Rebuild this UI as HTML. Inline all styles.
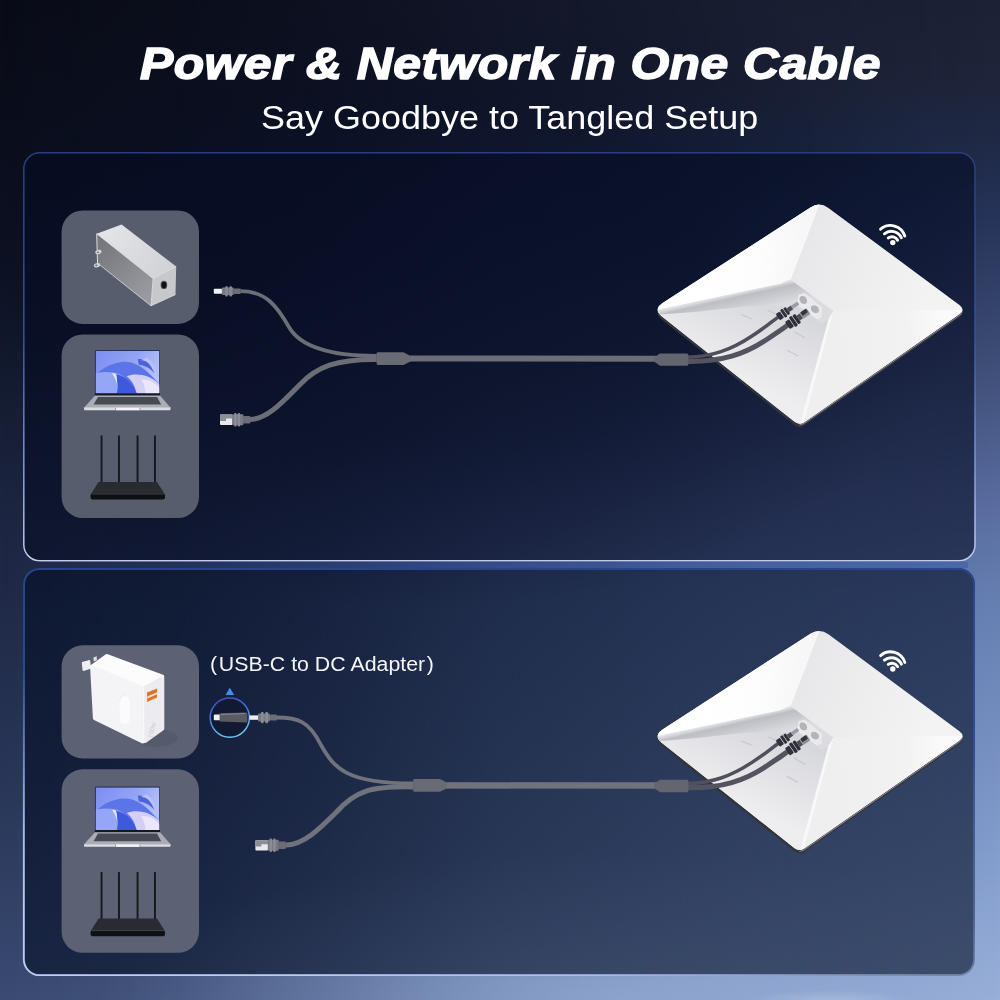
<!DOCTYPE html>
<html lang="en">
<head>
<meta charset="utf-8">
<title>Power &amp; Network in One Cable</title>
<style>
html,body{margin:0;padding:0;}
body{width:1000px;height:1000px;overflow:hidden;position:relative;background:#0b0f1c;font-family:"Liberation Sans",sans-serif;}
#bg{position:absolute;left:0;top:0;width:1000px;height:1000px;
 background:linear-gradient(180deg,#090c17 0%,#0b0f1c 15%,#0f1424 27%,#182036 40%,#1e2744 56%,#2a3758 80%,#3a4a72 100%);}
#bg2{position:absolute;left:0;top:0;width:1000px;height:1000px;
 background:linear-gradient(180deg,#1c2136 0%,#1e2439 8%,#1f2a47 15%,#26345a 22%,#3c4b73 35%,#586b9f 50%,#667fb2 60%,#829ccc 85%,#9ab0d8 100%);
 -webkit-mask-image:linear-gradient(90deg,rgba(0,0,0,0) 0%,rgba(0,0,0,0.1) 18%,rgba(0,0,0,0.3) 33%,rgba(0,0,0,0.6) 50%,rgba(0,0,0,0.85) 75%,rgba(0,0,0,1) 100%);
 mask-image:linear-gradient(90deg,rgba(0,0,0,0) 0%,rgba(0,0,0,0.1) 18%,rgba(0,0,0,0.3) 33%,rgba(0,0,0,0.6) 50%,rgba(0,0,0,0.85) 75%,rgba(0,0,0,1) 100%);}
#bg3{position:absolute;left:0;top:0;width:1000px;height:1000px;
 background:radial-gradient(ellipse 80px 10px at 830px 1000px, rgba(200,210,228,0.4) 0%, rgba(214,221,234,0) 100%),radial-gradient(ellipse 560px 340px at 42% 27%, rgba(5,10,32,0.5) 0%, rgba(5,10,32,0.42) 50%, rgba(5,10,32,0) 100%),
  radial-gradient(ellipse 520px 150px at 62% 100%, rgba(150,176,220,0.55) 0%, rgba(140,168,216,0.25) 55%, rgba(140,168,216,0) 100%);}
.panel{position:absolute;left:23px;width:952px;border-radius:16.5px;box-sizing:border-box;}
#gap{position:absolute;left:30px;top:561.6px;width:938px;height:6.6px;background:linear-gradient(90deg,rgba(30,70,170,0) 0%,rgba(30,70,170,0.3) 40%,rgba(30,70,170,0.3) 100%);}
#p1{top:152px;height:409.6px;background:rgba(5,12,35,0.6);}
#p2{top:568px;height:407.6px;background:rgba(4,13,37,0.6);}
svg{position:absolute;left:0;top:0;}
.t{position:absolute;white-space:nowrap;color:#fff;transform-origin:0 0;line-height:1;}
#title{left:139.5px;top:42.4px;font-size:44.5px;font-weight:bold;font-style:italic;transform:scaleX(1.12);-webkit-text-stroke:1.5px #fff;letter-spacing:0.4px;}
#sub{left:261px;top:100.5px;font-size:33.5px;transform:scaleX(1.0736);}
#usb{left:210.4px;top:655px;font-size:19.4px;transform:scaleX(1.1);color:#f4f5f8;}
</style>
</head>
<body>
<div id="bg"></div><div id="bg2"></div><div id="bg3"></div>
<div id="gap"></div>
<div class="panel" id="p1"></div>
<div class="panel" id="p2"></div>

<svg width="1000" height="1000" viewBox="0 0 1000 1000">
<defs>
 <linearGradient id="b1" x1="0" y1="0" x2="0" y2="1">
  <stop offset="0" stop-color="#2c3c82"/><stop offset="0.45" stop-color="#3350a6"/><stop offset="0.8" stop-color="#8a9edc"/><stop offset="0.95" stop-color="#b4c2ee"/><stop offset="1" stop-color="#c0ccf2"/>
 </linearGradient>
 <linearGradient id="b2" x1="0" y1="0" x2="0" y2="1">
  <stop offset="0" stop-color="#2a4488"/><stop offset="0.45" stop-color="#34509a" stop-opacity="0.85"/><stop offset="1" stop-color="#7f98cc" stop-opacity="0.25"/>
 </linearGradient>
 <linearGradient id="b3" x1="0.85" y1="0" x2="0.25" y2="1">
  <stop offset="0" stop-color="#b4c6f2" stop-opacity="0"/><stop offset="0.55" stop-color="#b4c6f2" stop-opacity="0"/><stop offset="0.85" stop-color="#b4c6f2" stop-opacity="0.9"/><stop offset="1" stop-color="#bccdf5" stop-opacity="1"/>
 </linearGradient>
 <linearGradient id="gF1" gradientUnits="userSpaceOnUse" x1="700" y1="270" x2="795" y2="282">
  <stop offset="0" stop-color="#ffffff"/><stop offset="0.6" stop-color="#fdfdfe"/><stop offset="1" stop-color="#f7f7f8"/>
 </linearGradient>
 <linearGradient id="gF2" gradientUnits="userSpaceOnUse" x1="805" y1="250" x2="930" y2="300">
  <stop offset="0" stop-color="#e8e8ea"/><stop offset="0.5" stop-color="#eeeeef"/><stop offset="1" stop-color="#f3f3f4"/>
 </linearGradient>
 <linearGradient id="gW1" gradientUnits="userSpaceOnUse" x1="740" y1="291" x2="745" y2="313">
  <stop offset="0" stop-color="#e6e6e9"/><stop offset="0.1" stop-color="#d8d9dd"/><stop offset="0.24" stop-color="#bdbec4"/><stop offset="0.6" stop-color="#cbccd1"/><stop offset="1" stop-color="#dcdce0"/>
 </linearGradient>
 <linearGradient id="gBase" gradientUnits="userSpaceOnUse" x1="790" y1="305" x2="752" y2="385">
  <stop offset="0" stop-color="#d5d6db"/><stop offset="0.5" stop-color="#e2e2e6"/><stop offset="1" stop-color="#eeeef0"/>
 </linearGradient>
 <linearGradient id="gF3" gradientUnits="userSpaceOnUse" x1="830" y1="330" x2="940" y2="320">
  <stop offset="0" stop-color="#efeff0"/><stop offset="0.7" stop-color="#f2f2f3"/><stop offset="1" stop-color="#fafafa"/>
 </linearGradient>
 <linearGradient id="gSide" gradientUnits="userSpaceOnUse" x1="100" y1="245" x2="150" y2="295">
  <stop offset="0" stop-color="#77787d"/><stop offset="1" stop-color="#9a9ba0"/>
 </linearGradient>
 <linearGradient id="gTop" gradientUnits="userSpaceOnUse" x1="105" y1="232" x2="165" y2="272">
  <stop offset="0" stop-color="#e3e4e7"/><stop offset="1" stop-color="#d2d3d7"/>
 </linearGradient>
 <linearGradient id="gCirc" x1="0" y1="0" x2="0.3" y2="1">
  <stop offset="0" stop-color="#4544b8"/><stop offset="0.5" stop-color="#3f7fe0"/><stop offset="1" stop-color="#72c4f2"/>
 </linearGradient>
 <linearGradient id="gScr" x1="0" y1="0" x2="1" y2="0.4">
  <stop offset="0" stop-color="#7d8df1"/><stop offset="0.6" stop-color="#93a4f5"/><stop offset="1" stop-color="#b4c0fa"/>
 </linearGradient>

 <clipPath id="devClip"><path d="M810.4 207.4 Q819.6 201.4 828.4 207.9 L959.4 304.9 Q965.8 309.7 959.2 314.3 L804.7 421.9 Q799.4 425.6 794.3 421.6 L662 316.5 Q653 309.3 662.6 303 Z"/></clipPath>
 <!-- the white panel antenna (panel-1 coordinates) -->
 <g id="dev">
  <!-- side thickness -->
  <path d="M810.4 207.4 Q819.6 201.4 828.4 207.9 L959.4 304.9 Q965.8 309.7 959.2 314.3 L804.7 421.9 Q799.4 425.6 794.3 421.6 L662 316.5 Q653 309.3 662.6 303 Z" transform="translate(0 3.3)" fill="#33353e"/>
  <path d="M799.4 424.4 Q802 424.6 804.7 422.6 L959.2 315 Q962.6 312.6 963 310 L963 311 Q962.6 313.6 959.2 316 L804.7 423.6 Q802 425.6 799.4 425.4 Z" fill="#8d8f98"/>
  <g clip-path="url(#devClip)">
  <!-- top surface -->
  <rect x="645" y="198" width="330" height="235" fill="url(#gF2)"/>
  <!-- facets -->
  <path d="M821 198 L790.2 279.5 L780 284 L645 312.4 L645 198 Z" fill="url(#gF1)"/>
  <path d="M833.4 311 L975 309.6 L799.4 432 Z" fill="url(#gF3)"/>
  <!-- recess -->
  <path d="M645 312.4 L796 294 L829 319 L801.4 421.4 L799 432 Z" fill="url(#gBase)"/>
  <path d="M645 312.4 L780 284 L790.2 279.5 L833.4 311 L828.6 319.4 L822 324 L800 308 L782 306 L744 306.4 L700 311.4 L668 314 L645 315 Z" fill="url(#gW1)"/>
  <path d="M833.4 311 L828.4 319.4 L798.4 430 L803.4 424 Z" fill="#f8f8f9"/>
  <path d="M799.4 294.6 L804.8 293 L822.2 307.6 L821.4 317.6 L817.8 318.8 L797.8 304 Z" fill="#e9e9ec"/>
  <path d="M799.4 294.6 L797.8 304 L817.8 318.8" stroke="#f6f6f7" stroke-width="0.8" fill="none"/>
  <ellipse cx="803.3" cy="300" rx="3.9" ry="4.9" transform="rotate(-38 803.3 300)" fill="#b3b4b9" stroke="#f5f5f6" stroke-width="0.7"/>
  <ellipse cx="814.9" cy="309.2" rx="3.9" ry="4.9" transform="rotate(-52 814.9 309.2)" fill="#b3b4b9" stroke="#f5f5f6" stroke-width="0.7"/>
  <path d="M820.6 200 L790.2 279.5" stroke="#fefefe" stroke-width="0.8" fill="none"/>
  </g>
  <!-- dashes -->
  <g stroke="#c9cacf" stroke-width="1.3" fill="none">
   <path d="M741 314.4 L752 319"/><path d="M768 310.4 L778 315"/><path d="M794 331.6 L805 338"/><path d="M787 350 L798 356"/>
  </g>
  <!-- cables on device -->
  <path d="M687 357.2 C712 356.6 731 350 752 336 S770 322.6 779 316.6" stroke="#4f505b" stroke-width="3.5" fill="none"/>
  <path d="M687 361.4 C722 362 745 354 766 340 S782 329 789.6 323.8" stroke="#53545f" stroke-width="5" fill="none"/>
  <!-- dc plug on device -->
  <g transform="translate(784 313) rotate(-35)">
   <rect x="-7.5" y="-3.8" width="5" height="7.6" rx="1" fill="#30313a"/>
   <rect x="-1.8" y="-4.6" width="3" height="9.2" rx="1" fill="#30313a"/>
   <rect x="1.8" y="-4.2" width="3" height="8.4" rx="1" fill="#30313a"/>
   <rect x="4.8" y="-2.2" width="5" height="4.4" fill="#4b4c55"/>
   <rect x="9.5" y="-1.8" width="8" height="3.6" rx="0.8" fill="#9c9da5"/>
  </g>
  <!-- rj45 plug on device -->
  <g transform="translate(794 321) rotate(-35)">
   <rect x="-8" y="-4.4" width="5" height="8.8" rx="1" fill="#30313a"/>
   <rect x="-2.4" y="-5.8" width="3.4" height="11.6" rx="1.2" fill="#2e2f38"/>
   <rect x="1.6" y="-5.4" width="3.4" height="10.8" rx="1.2" fill="#2e2f38"/>
   <rect x="5" y="-3" width="4" height="6" fill="#4b4c55"/>
   <rect x="9" y="-3.4" width="8.6" height="7" rx="1" fill="#8e9097"/><rect x="10" y="-3.4" width="6.6" height="4.2" rx="0.8" fill="#33343c"/>
  </g>
  <!-- junction near device -->
  <path d="M654 357.2 L660 353.4 L687 353.4 Q688.4 353.4 688.4 355 L688.4 364 Q688.4 365.8 687 365.8 L660 365.8 L654 361.6 Z" fill="#63656f"/>
 </g>

 <!-- laptop + router box (panel-1 coordinates) -->
 <g id="lr">
  <!-- laptop -->
  <rect x="94.9" y="350" width="65.1" height="45.7" rx="1.2" fill="#26315c"/>
  <g transform="translate(75 340) scale(0.11)">
   <rect x="190" y="100" width="575" height="385" fill="url(#gScr)"/>
   <path d="M190 300 C250 280 330 290 370 330 C392 380 388 440 380 485 L190 485 Z" fill="#95a6f6"/>
   <path d="M205 300 C260 250 330 215 420 200 C520 190 600 230 700 330 L765 400 L765 485 L560 485 C520 400 460 330 380 300 C320 285 250 290 205 300 Z" fill="#5b75e8"/>
   <path d="M470 330 C560 296 680 318 765 400 L765 485 L560 485 C545 420 520 370 470 330 Z" fill="#d3cff6"/>
   <path d="M600 360 C660 350 720 380 765 430 L765 485 L640 485 C640 440 625 395 600 360 Z" fill="#ece6fa"/>
   <path d="M330 300 C385 330 402 400 380 485 L560 485 C540 420 480 340 400 318 Z" fill="#3f59de"/>
   <path d="M570 175 C625 160 685 205 722 305 C690 262 640 232 580 226 Z" fill="#4b63dd"/>
   <path d="M600 185 C650 180 700 230 730 300 C735 250 700 190 650 160 Z" fill="#b9c3fa"/>
   <path d="M330 300 C352 325 368 350 380 400 C386 350 380 320 370 305 Z" fill="#dfe4fd"/>
  </g>
  <rect x="94.9" y="393.4" width="65.1" height="2.3" fill="#17181f"/>
  <path d="M95 395.6 L160 395.6 L170.8 408 L83.8 408 Z" fill="#aaacb6"/>
  <path d="M98 397 L157 397 L161.2 404.6 L93.6 404.6 Z" fill="#474953"/>
  <path d="M83.8 407.6 L170.8 407.6 L170.2 410.2 L84.4 410.2 Z" fill="#dcdde4"/>
  <rect x="116" y="407.8" width="23.6" height="2.4" fill="#f4f4f8"/>
  <rect x="115.2" y="407.8" width="0.8" height="2.4" fill="#8c8e98"/><rect x="139.6" y="407.8" width="0.8" height="2.4" fill="#8c8e98"/>
  <!-- router -->
  <g fill="#17181d">
   <rect x="100.6" y="435.5" width="1.9" height="50"/>
   <rect x="118" y="435.5" width="1.9" height="48"/>
   <rect x="136.6" y="435.5" width="1.9" height="48"/>
   <rect x="154" y="435.5" width="1.9" height="50"/>
   <path d="M98.5 482 L157 482 L164.6 494 L91 494 Z" fill="#2a2b32"/>
   <rect x="90.6" y="493.6" width="74.4" height="6" rx="2" fill="#0f1014"/>
  </g>
  <path d="M92 494 L164 494" stroke="#4a4b53" stroke-width="0.8"/>
 </g>

 <!-- splitter cable, panel-1 coordinates -->
 <g id="ycab">
  <path d="M410 358.5 L656 358.8" stroke="#6b6d77" stroke-width="6" fill="none"/>
  <path d="M376.6 353.6 Q376.6 352.2 378 352.2 L403.4 352.2 L410.6 356 L410.6 361.4 L403.4 365 L378 365 Q376.6 365 376.6 363.6 Z" fill="#686a74"/>
 </g>
</defs>

<!-- panel borders -->
<rect x="23.8" y="152.8" width="951.2" height="408" rx="16" fill="none" stroke="url(#b1)" stroke-width="1.5"/>
<rect x="24" y="569" width="950" height="406" rx="15.5" fill="none" stroke="url(#b2)" stroke-width="2"/>
<rect x="23.8" y="569" width="950.6" height="406.2" rx="16" fill="none" stroke="url(#b3)" stroke-width="1.8"/>

<!-- ============ PANEL 1 ============ -->
<rect x="61.6" y="210.5" width="137.4" height="113.4" rx="21" fill="#585d6e"/>
<!-- DC power brick -->
<path d="M96.7 233.7 L153.1 278.5 L151 305.8 L97.5 263.1 Z" fill="url(#gSide)"/>
<path d="M96.7 233.7 L121.6 224.6 L176.2 266.6 L153.1 278.5 Z" fill="url(#gTop)"/>
<path d="M153.1 278.5 L176.2 266.6 L175.5 294.6 L151 305.8 Z" fill="#c7c8cc"/>
<path d="M97.5 263.1 L151 305.8 L175.5 294.6 M153.1 278.5 L151 305.8 M96.7 233.7 L153.1 278.5 L176.2 266.6" stroke="#ececef" stroke-width="0.7" fill="none"/>
<path d="M96.7 233.7 L97.5 263.1" stroke="#dcdde1" stroke-width="1" fill="none"/>
<ellipse cx="163.9" cy="284.9" rx="3.3" ry="4.2" fill="#55565c"/>
<ellipse cx="164" cy="285" rx="2.4" ry="3.3" fill="#101114"/>
<ellipse cx="98.4" cy="252" rx="3.2" ry="2.1" transform="rotate(-18 98.4 252)" fill="#d4d5da"/><ellipse cx="97.9" cy="252.2" rx="1.2" ry="0.8" fill="#6f7078"/>
<ellipse cx="97" cy="265.2" rx="3.2" ry="2.1" transform="rotate(-18 97 265.2)" fill="#d4d5da"/><ellipse cx="96.4" cy="265.4" rx="1.2" ry="0.8" fill="#6f7078"/>
<rect x="61.6" y="334.4" width="137.4" height="183.6" rx="21" fill="#585d6e"/>
<use href="#lr"/>

<!-- cables panel 1 -->
<path d="M240.6 291.2 C266 291.2 277 306 288.8 326.8 C299 345 326 356 376.8 355.9" stroke="#6b6d77" stroke-width="3.8" fill="none"/>
<path d="M250 419.4 C268 419 284 400.4 300 384.4 C317 367 336 359 376.8 359.4" stroke="#6b6d77" stroke-width="5" fill="none"/>
<use href="#ycab"/>
<!-- DC plug -->
<rect x="213.8" y="288.8" width="8.4" height="4.9" rx="0.8" fill="#f2f2f4"/>
<rect x="221.8" y="287.6" width="12" height="7.4" rx="1" fill="#777983"/>
<rect x="225.2" y="286.2" width="2.6" height="10.2" rx="1" fill="#868892"/>
<rect x="229.4" y="286.2" width="2.6" height="10.2" rx="1" fill="#868892"/>
<rect x="233.6" y="288.4" width="7.2" height="5.6" rx="1" fill="#6b6d77"/>
<!-- RJ45 plug -->
<rect x="220" y="414.6" width="12.6" height="10.4" rx="1" fill="#e9e9ec"/>
<path d="M220 414.6 L232.6 414.6 L232.6 418.6 L226 418.6 L226 421 L220 421 Z" fill="#8c8e96"/>
<rect x="232.4" y="414.2" width="11" height="11" rx="1" fill="#777983"/>
<rect x="234.2" y="413" width="2.4" height="13.4" rx="1" fill="#8a8c96"/>
<rect x="237.8" y="413" width="2.4" height="13.4" rx="1" fill="#8a8c96"/>
<rect x="243" y="416" width="7.4" height="7.4" rx="1" fill="#6b6d77"/>

<use href="#dev"/>
<!-- wifi 1 -->
<g id="wifi" fill="none" stroke="#fff" stroke-width="2.9" stroke-linecap="round">
 <path d="M880.6 229.2 A15 15 0 0 1 904.8 236"/>
 <path d="M884.4 233.8 A11 11 0 0 1 901.4 237.8"/>
 <path d="M888.2 238 A6.4 6.4 0 0 1 897.6 240.2"/>
 <circle cx="892.8" cy="242.6" r="1.4" fill="#fff" stroke-width="2.6"/>
</g>

<!-- ============ PANEL 2 ============ -->
<rect x="61.6" y="645.3" width="137.4" height="113.1" rx="21" fill="#5c6274"/>
<!-- charger -->
<ellipse cx="156" cy="738" rx="22" ry="9" fill="#474b5a" opacity="0.28"/>
<path d="M82.4 662.6 L89.6 660.6 L90.4 668.2 L83.2 670.4 Z" fill="#eeeff3" stroke="#eeeff3" stroke-width="1.2" stroke-linejoin="round"/>
<path d="M93.4 657.6 L96.6 656.2 L97 660 L93.8 661.4 Z" fill="#dfe0e6"/>
<g stroke-linejoin="round" stroke-width="4">
<path d="M92.1 666.6 L107 656 L162.3 676.7 L142.6 686.4 Z" fill="#fcfcfd" stroke="#fcfcfd"/>
<path d="M92.1 667.4 L142.3 688 L142.6 741.4 L94.9 718.1 Z" fill="#f4f4f7" stroke="#f4f4f7"/>
<path d="M144.6 688 L162.3 678.4 L162.3 728.6 L144.9 741 Z" fill="#ebebf0" stroke="#ebebf0"/>
</g>
<path d="M143.4 687 L143.8 742" stroke="#fafafc" stroke-width="1.2" fill="none"/>
<rect x="119.6" y="695.4" width="10.4" height="28.4" rx="5.2" fill="#fbfbfd"/>
<path d="M119.8 701 Q119.6 695.6 124.8 695.6" stroke="#e4e5ea" stroke-width="0.8" fill="none"/>
<path d="M147 692.6 L157.2 688.4 L157 697.6 L147.2 702 Z" fill="#d9762a"/>
<path d="M147.4 696.4 L157 692.2 L157 694.2 L147.4 698.4 Z" fill="#f3e2d2"/>
<text x="0" y="0" transform="translate(152.2 738.4) rotate(-76)" font-family="Liberation Sans, sans-serif" font-size="6.6" fill="#cbccd4">100w</text>
<rect x="61.6" y="769.3" width="137.4" height="183.5" rx="21" fill="#5c6274"/>
<use href="#lr" transform="translate(0 436.6)"/>

<!-- cables panel 2 -->
<path d="M277 717.5 C297 717.5 309 720.5 321 745 C334 768 346 783.6 413.3 783.4" stroke="#70727c" stroke-width="3.8" fill="none"/>
<path d="M285.4 845 C303 845.4 320.5 828 336.5 812 C355 791 370 786.2 413.3 786.9" stroke="#70727c" stroke-width="5" fill="none"/>
<g transform="translate(36.6 426.8)"><use href="#ycab"/></g>
<path d="M446.4 785.4 L656 785.4" stroke="#70727c" stroke-width="6" fill="none"/>
<!-- usb-c adapter -->
<circle cx="229.8" cy="717.6" r="19.6" fill="#121830" fill-opacity="0.75" stroke="url(#gCirc)" stroke-width="1.5"/>
<path d="M229.8 687.8 L234.2 695 L225.6 695 Z" fill="#3f8fee"/>
<rect x="213.8" y="714.6" width="7" height="5.6" rx="1" fill="#f0f0f3"/>
<path d="M219.6 713.2 L246 712.4 Q247.4 712.4 247.4 713.8 L247.4 721.2 Q247.4 722.6 246 722.4 L219.6 721.4 Z" fill="#595a62"/>
<path d="M221 714.4 L245 713.6" stroke="#8e9098" stroke-width="0.9"/>
<rect x="249.4" y="715.4" width="9" height="4.4" fill="#ededf0"/>
<rect x="258" y="713.6" width="12" height="8" rx="1" fill="#777983"/>
<rect x="261" y="712" width="2.6" height="11.2" rx="1" fill="#8a8c96"/>
<rect x="265.4" y="712" width="2.6" height="11.2" rx="1" fill="#8a8c96"/>
<rect x="270" y="714.6" width="7" height="5.8" rx="1" fill="#6b6d77"/>
<!-- RJ45 plug 2 -->
<g transform="translate(35.4 425.6)">
<rect x="220" y="414.6" width="12.6" height="10.4" rx="1" fill="#e9e9ec"/>
<path d="M220 414.6 L232.6 414.6 L232.6 418.6 L226 418.6 L226 421 L220 421 Z" fill="#8c8e96"/>
<rect x="232.4" y="414.2" width="11" height="11" rx="1" fill="#777983"/>
<rect x="234.2" y="413" width="2.4" height="13.4" rx="1" fill="#8a8c96"/>
<rect x="237.8" y="413" width="2.4" height="13.4" rx="1" fill="#8a8c96"/>
<rect x="243" y="416" width="7.4" height="7.4" rx="1" fill="#6b6d77"/>
</g>

<use href="#dev" transform="translate(0 426.4)"/>
<use href="#wifi" transform="translate(0 426.4)"/>
</svg>

<div class="t" id="title">Power &amp; Network in One Cable</div>
<div class="t" id="sub">Say Goodbye to Tangled Setup</div>
<div class="t" id="usb"><span style="margin-right:1.6px">(</span>USB-C to DC Adapter<span style="margin-left:1.4px">)</span></div>
</body>
</html>
